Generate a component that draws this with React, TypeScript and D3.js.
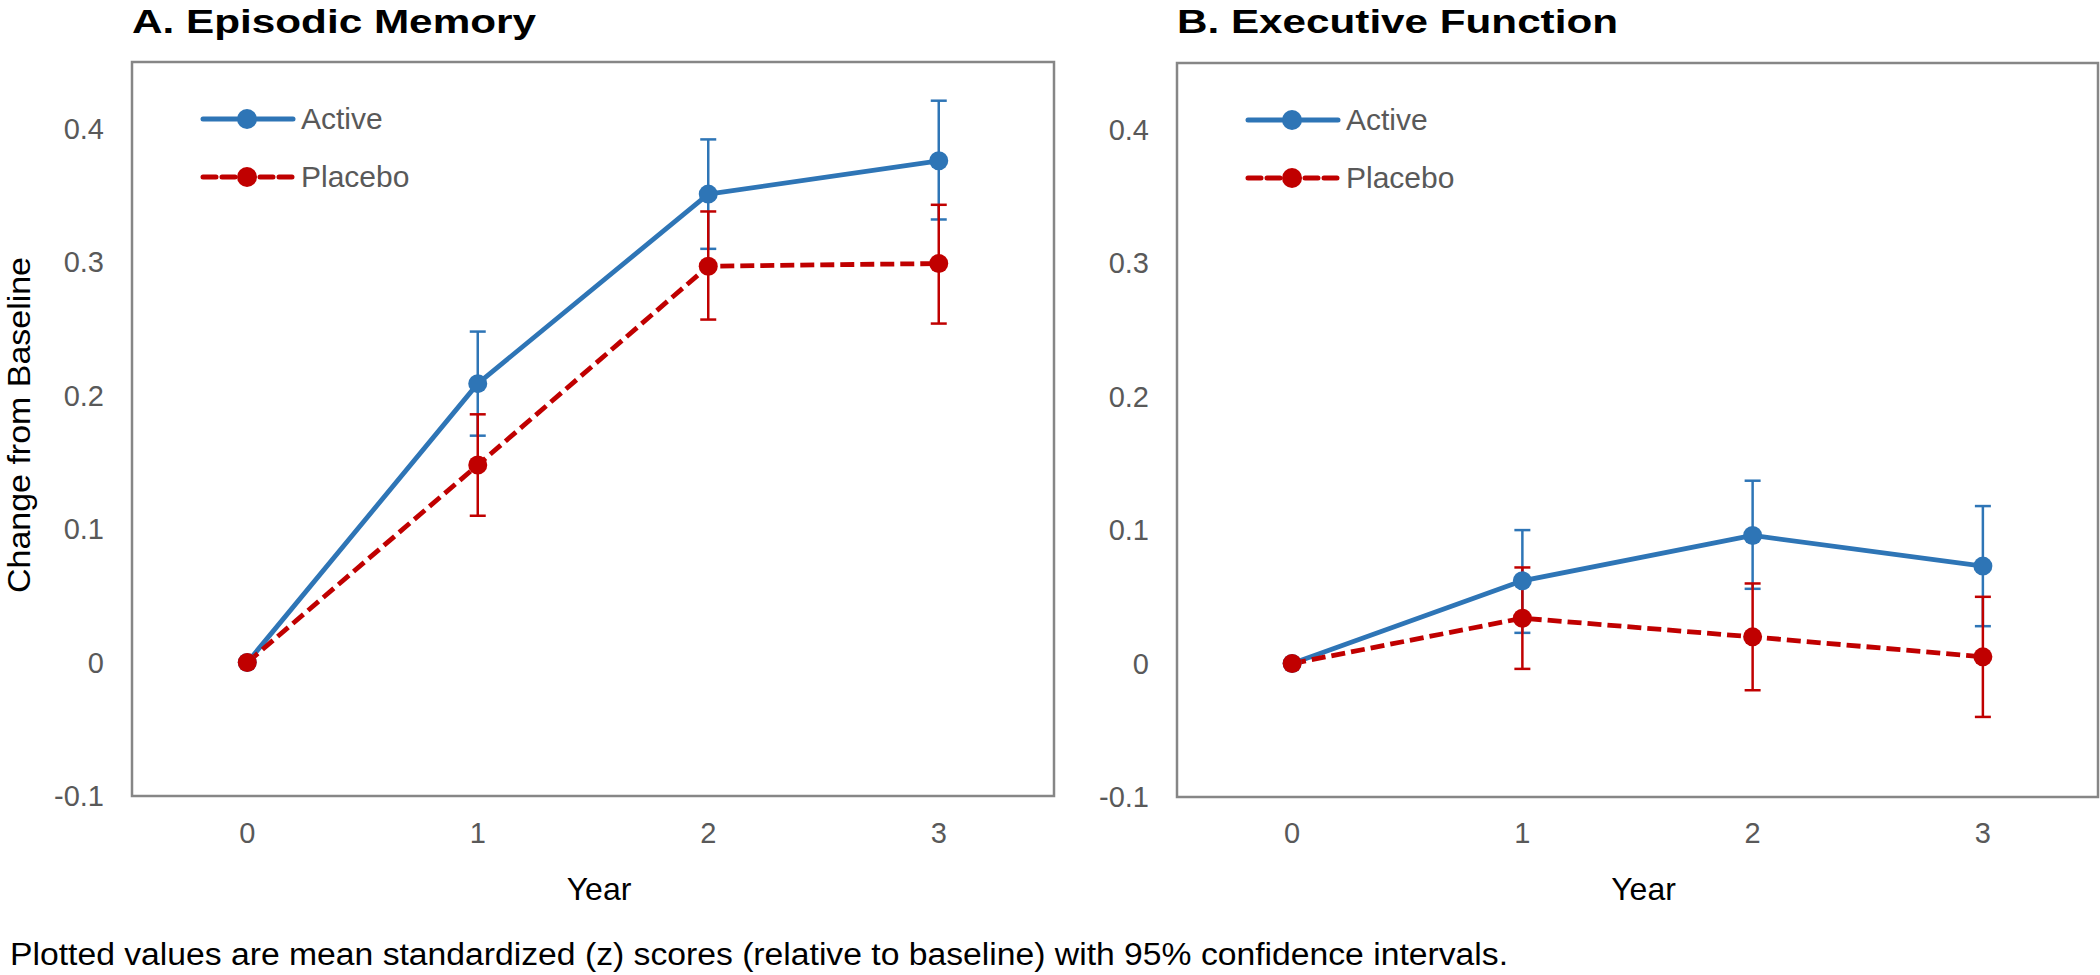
import React from "react";
import * as d3 from "d3";

const years = [0, 1, 2, 3];
const yTicks = [-0.1, 0, 0.1, 0.2, 0.3, 0.4];
const yTickLabels = ["-0.1", "0", "0.1", "0.2", "0.3", "0.4"];
const seriesNames = ["Active", "Placebo"];

// Panel A: Episodic Memory
const memActive = [0, 0.209, 0.351, 0.376];
const memActiveLo = [0, 0.170, 0.310, 0.332];
const memActiveHi = [0, 0.248, 0.392, 0.421];
const memPlacebo = [0, 0.148, 0.297, 0.299];
const memPlaceboLo = [0, 0.110, 0.257, 0.254];
const memPlaceboHi = [0, 0.186, 0.338, 0.343];

// Panel B: Executive Function
const exeActive = [0, 0.062, 0.096, 0.073];
const exeActiveLo = [0, 0.023, 0.056, 0.028];
const exeActiveHi = [0, 0.100, 0.137, 0.118];
const exePlacebo = [0, 0.034, 0.020, 0.005];
const exePlaceboLo = [0, -0.004, -0.020, -0.040];
const exePlaceboHi = [0, 0.072, 0.060, 0.050];

const FONT = "'Liberation Sans', Arial, Helvetica, sans-serif";
const BLUE = "#2E75B6";
const RED = "#C00000";
const GRAY_TXT = "#595959";
const FRAME = "#868686";

type Series = { name: string; vals: number[]; lo: number[]; hi: number[]; color: string; dash?: string };

function Panel({
  left, right, top, bottom, title, titleLen, series, yTitle,
}: {
  left: number; right: number; top: number; bottom: number; title: string; titleLen: number;
  series: Series[]; yTitle: boolean;
}) {
  const x = d3.scalePoint<number>().domain(years).range([left, right]).padding(0.5);
  const y = d3.scaleLinear().domain([-0.1, 0.45]).range([bottom, top]);
  const line = d3.line<number>().x((_, i) => x(years[i]) as number).y((d) => y(d));
  const cx = (left + right) / 2;

  return (
    <g>
      <text x={left} y={33} fontFamily={FONT} fontWeight="bold" fontSize={34} fill="#000"
        textLength={titleLen} lengthAdjust="spacingAndGlyphs">{title}</text>
      <rect x={left} y={top} width={right - left} height={bottom - top} fill="#fff" stroke={FRAME} strokeWidth={2.5} />
      {yTicks.map((t, i) => (
        <text key={t} x={left - 28} y={y(t)} dy="0.35em" textAnchor="end" fontFamily={FONT} fontSize={29} fill={GRAY_TXT}>
          {yTickLabels[i]}
        </text>
      ))}
      {years.map((yr) => (
        <text key={yr} x={x(yr)} y={843} textAnchor="middle" fontFamily={FONT} fontSize={29} fill={GRAY_TXT}>
          {String(yr)}
        </text>
      ))}
      <text x={cx + 6} y={900} textAnchor="middle" fontFamily={FONT} fontSize={32} fill="#000">Year</text>
      {yTitle && (
        <text transform={`translate(30, 425) rotate(-90)`} textAnchor="middle" fontFamily={FONT} fontSize={31} fill="#000"
          textLength={336} lengthAdjust="spacingAndGlyphs">Change from Baseline</text>
      )}
      {/* error bars */}
      {series.map((s) => (
        <g key={s.name + "eb"} stroke={s.color} strokeWidth={2.5}>
          {years.map((yr, i) =>
            s.hi[i] === s.lo[i] ? null : (
              <g key={yr}>
                <line x1={x(yr)} x2={x(yr)} y1={y(s.hi[i])} y2={y(s.lo[i])} />
                <line x1={(x(yr) as number) - 8} x2={(x(yr) as number) + 8} y1={y(s.hi[i])} y2={y(s.hi[i])} />
                <line x1={(x(yr) as number) - 8} x2={(x(yr) as number) + 8} y1={y(s.lo[i])} y2={y(s.lo[i])} />
              </g>
            )
          )}
        </g>
      ))}
      {series.map((s) => (
        <path key={s.name + "ln"} d={line(s.vals) || ""} fill="none" stroke={s.color} strokeWidth={4.8}
          strokeDasharray={s.dash} strokeLinejoin="round" />
      ))}
      {series.map((s) => (
        <g key={s.name + "mk"} fill={s.color}>
          {s.vals.map((v, i) => (
            <circle key={i} cx={x(years[i])} cy={y(v)} r={9.5} />
          ))}
        </g>
      ))}
      {/* legend */}
      {series.map((s, i) => {
        const ly = top + 57 + i * 58;
        const lx0 = left + 71;
        return (
          <g key={s.name + "lg"}>
            <line x1={lx0} x2={lx0 + 90} y1={ly} y2={ly} stroke={s.color} strokeWidth={5}
              strokeDasharray={s.dash ? "13 6" : undefined} strokeLinecap="round" />
            <circle cx={lx0 + 44} cy={ly} r={10} fill={s.color} />
            <text x={left + 169} y={ly + 10} fontFamily={FONT} fontSize={30} fill={GRAY_TXT}>{s.name}</text>
          </g>
        );
      })}
    </g>
  );
}

export default function App() {
  const memSeries: Series[] = [
    { name: seriesNames[0], vals: memActive, lo: memActiveLo, hi: memActiveHi, color: BLUE },
    { name: seriesNames[1], vals: memPlacebo, lo: memPlaceboLo, hi: memPlaceboHi, color: RED, dash: "14 6" },
  ];
  const exeSeries: Series[] = [
    { name: seriesNames[0], vals: exeActive, lo: exeActiveLo, hi: exeActiveHi, color: BLUE },
    { name: seriesNames[1], vals: exePlacebo, lo: exePlaceboLo, hi: exePlaceboHi, color: RED, dash: "14 6" },
  ];
  return (
    <svg width={2100} height={975} style={{ position: "absolute", left: 0, top: 0, background: "#fff" }}>
      <rect width={2100} height={975} fill="#fff" />
      <Panel left={132} right={1054} top={62} bottom={796} title="A.  Episodic Memory" titleLen={404}
        series={memSeries} yTitle={true} />
      <Panel left={1177} right={2098} top={63} bottom={797} title="B.  Executive Function" titleLen={441}
        series={exeSeries} yTitle={false} />
      <text x={10} y={965} fontFamily={FONT} fontSize={31} fill="#000" textLength={1498} lengthAdjust="spacingAndGlyphs">
        Plotted values are mean standardized (z) scores (relative to baseline) with 95% confidence intervals.
      </text>
    </svg>
  );
}
